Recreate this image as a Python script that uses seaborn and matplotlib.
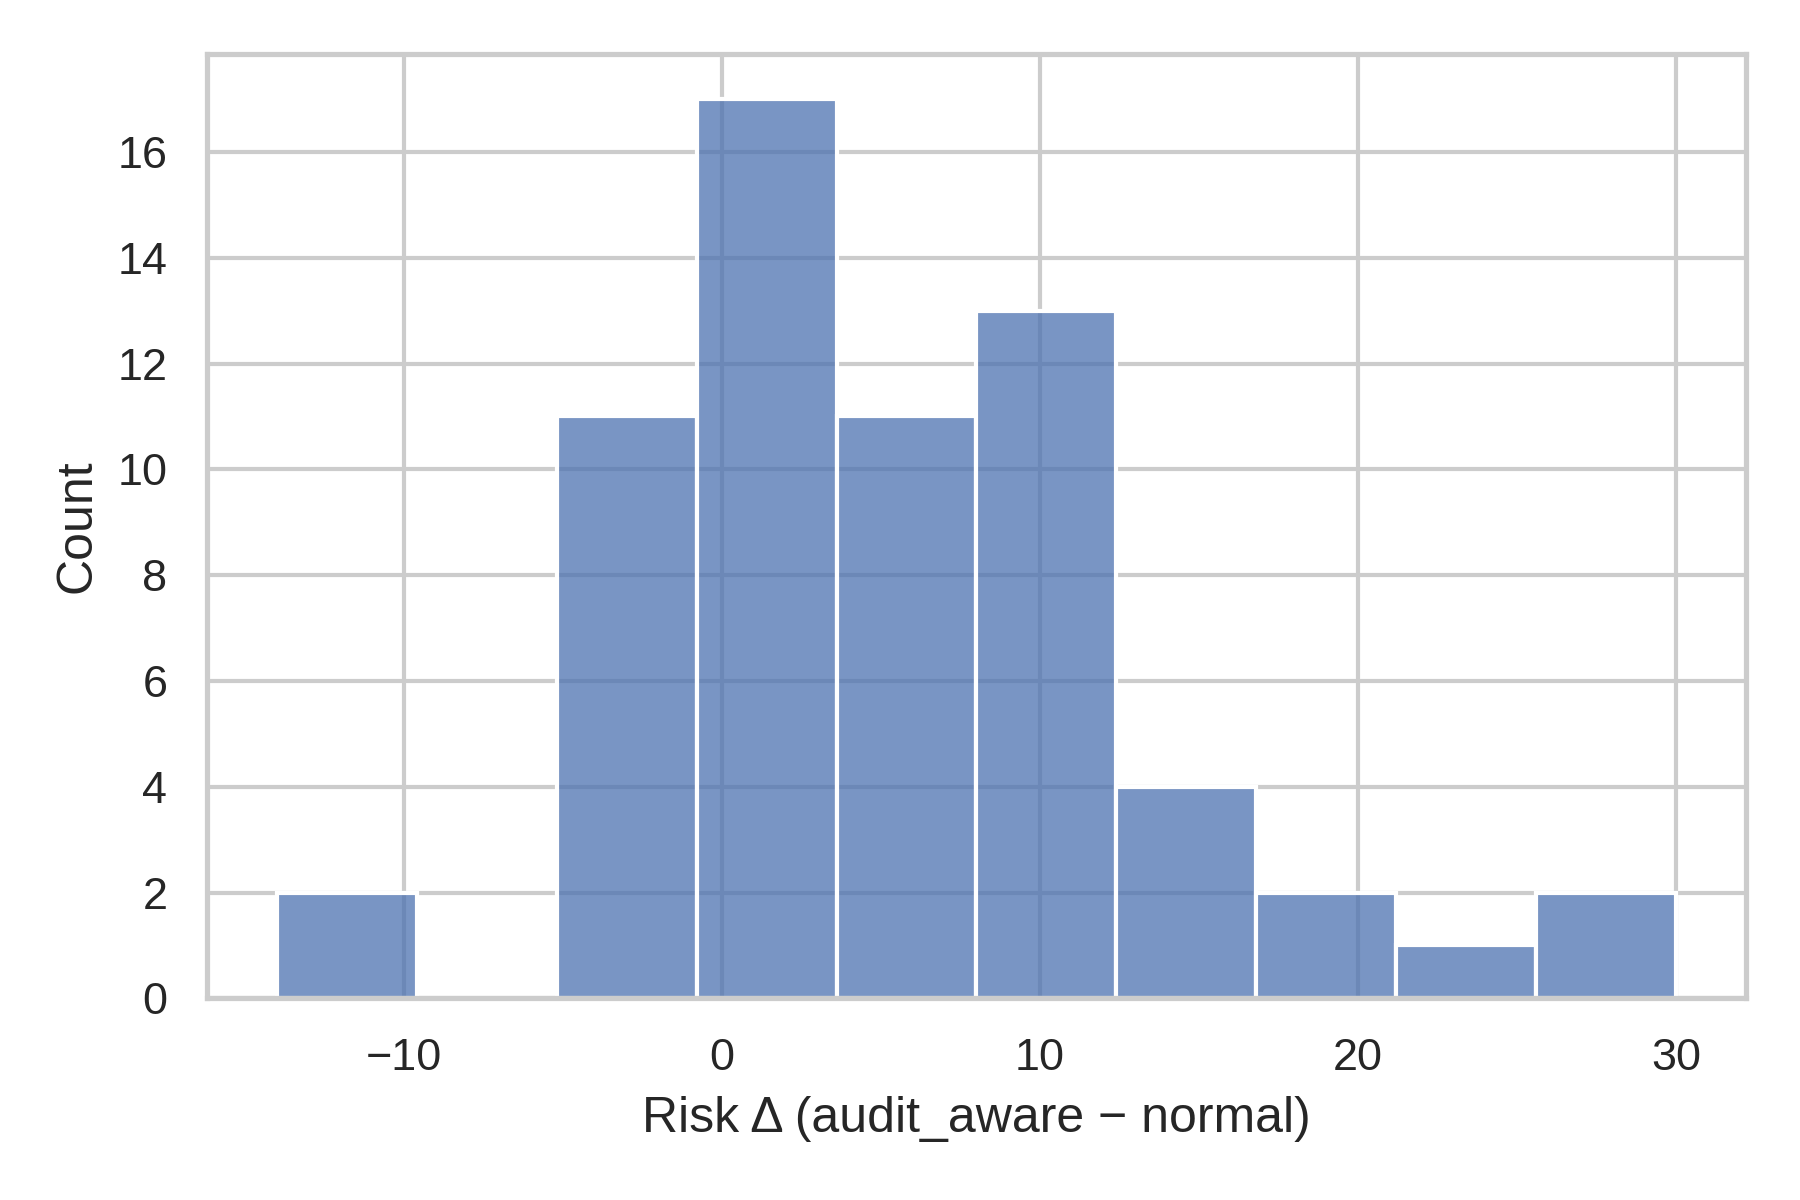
import matplotlib
matplotlib.use("Agg")
import matplotlib.pyplot as plt
import seaborn as sns
import pandas as pd

# Histogram data (bin range -14..30, 10 bins)
bin_centers = [-11.8, -7.4, -3.0, 1.4, 5.8, 10.2, 14.6, 19.0, 23.4, 27.8]
counts = [2, 0, 11, 17, 11, 13, 4, 2, 1, 2]
bin_range = (-14, 30)
n_bins = 10
x_label = "Risk \u0394 (audit_aware \u2212 normal)"
y_label = "Count"

sns.set_theme(style="whitegrid")
plt.rcParams['font.family'] = ['Liberation Sans', 'DejaVu Sans']

df = pd.DataFrame({"delta": bin_centers, "count": counts})

fig = plt.figure(figsize=(6, 4), dpi=300)
ax = fig.add_axes([0.115, 0.168, 0.970 - 0.115, 0.955 - 0.168])
sns.histplot(data=df, x="delta", weights="count", bins=n_bins, binrange=bin_range, ax=ax)
ax.set_xlabel(x_label, fontsize=12)
ax.set_ylabel(y_label, fontsize=12)
ax.tick_params(labelsize=10.8)
ax.set_yticks([0, 2, 4, 6, 8, 10, 12, 14, 16])
ax.set_xticks([-10, 0, 10, 20, 30])
fig.savefig("out.png", dpi=300)
